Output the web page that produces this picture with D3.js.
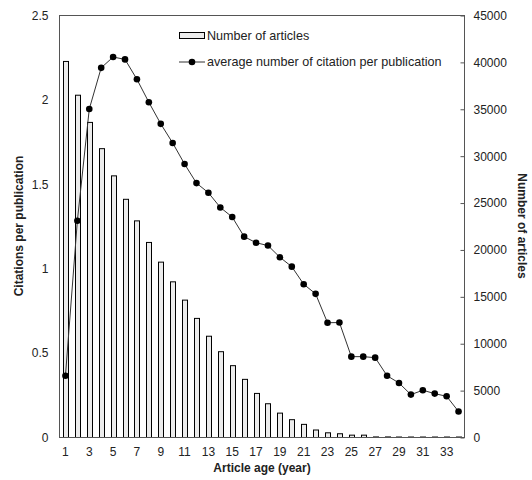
<!DOCTYPE html>
<html><head><meta charset="utf-8">
<script src="https://cdn.jsdelivr.net/npm/d3@7/dist/d3.min.js"></script>
<style>body{margin:0;background:#fff}svg{display:block}text{font-family:"Liberation Sans",Arial,sans-serif}</style>
</head><body><svg id="c" width="532" height="480"></svg>
<script>
const years = d3.range(1, 35);
const articles = [40100,36500,33600,30800,27900,25400,23100,20800,18700,16600,14650,12700,10800,9150,7660,6200,4700,3600,2600,1900,1400,800,500,400,250,250,60,60,50,50,50,50,50,50];
const citations = [0.366,1.284,1.946,2.19,2.254,2.24,2.122,1.986,1.858,1.745,1.62,1.507,1.45,1.363,1.306,1.19,1.154,1.137,1.068,1.012,0.908,0.851,0.68,0.681,0.479,0.479,0.473,0.366,0.323,0.254,0.28,0.26,0.244,0.154];
const leftTicks = [0,0.5,1,1.5,2,2.5];
const rightTicks = [0,5000,10000,15000,20000,25000,30000,35000,40000,45000];
const xTickLabels = d3.range(1, 35, 2);

const svg = d3.select("#c");
const L = 59.5, R = 464.5, T = 15.5, B = 437.5;
const x = d3.scaleBand().domain(years).range([L, R]).paddingInner(0).paddingOuter(0);
const yL = d3.scaleLinear().domain([0, 2.5]).range([B, T]);
const yR = d3.scaleLinear().domain([0, 45000]).range([B, T]);
const bw = 5;

// bars
svg.append("g").selectAll("rect").data(years).join("rect")
  .attr("x", d => Math.round(x(d) + x.bandwidth()/2 - bw/2) + 0.5)
  .attr("y", (d,i) => yR(articles[i]))
  .attr("width", bw)
  .attr("height", (d,i) => B - yR(articles[i]))
  .attr("fill", "#ececec").attr("stroke", "#000").attr("stroke-width", 1);

// frame
svg.append("rect").attr("x", L).attr("y", T).attr("width", R-L).attr("height", B-T)
  .attr("fill", "none").attr("stroke", "#555").attr("stroke-width", 1);

// left axis
const gl = svg.append("g").attr("transform", `translate(${L},0)`)
  .call(d3.axisLeft(yL).tickValues(leftTicks).tickSize(0).tickPadding(11).tickFormat(d3.format("")));
gl.select(".domain").remove();
gl.selectAll("text").attr("font-size", 12).attr("fill", "#222").attr("font-family", "Liberation Sans, Arial, sans-serif");

// right axis
const gr = svg.append("g").attr("transform", `translate(${R},0)`)
  .call(d3.axisRight(yR).tickValues(rightTicks).tickSize(-4).tickPadding(9).tickFormat(d3.format("d")));
gr.select(".domain").remove();
gr.selectAll("line").attr("stroke", "#555");
gr.selectAll("text").attr("font-size", 12).attr("fill", "#222").attr("font-family", "Liberation Sans, Arial, sans-serif");

// x axis
const gx = svg.append("g").attr("transform", `translate(0,${B})`)
  .call(d3.axisBottom(x).tickValues(xTickLabels).tickSize(0).tickPadding(10));
gx.select(".domain").remove();
gx.selectAll("text").attr("font-size", 12).attr("fill", "#222").attr("font-family", "Liberation Sans, Arial, sans-serif");

// line
const line = d3.line().x((d,i) => x(years[i]) + x.bandwidth()/2).y(d => yL(d));
svg.append("path").datum(citations).attr("d", line).attr("fill", "none").attr("stroke", "#333").attr("stroke-width", 1);
svg.append("g").selectAll("circle").data(citations).join("circle")
  .attr("cx", (d,i) => x(years[i]) + x.bandwidth()/2).attr("cy", d => yL(d)).attr("r", 3.3).attr("fill", "#000");

// titles
svg.append("text").attr("x", 262).attr("y", 472).attr("text-anchor", "middle")
  .attr("font-size", 12).attr("font-weight", "bold").attr("fill", "#222").text("Article age (year)");
svg.append("text").attr("transform", "translate(23,226) rotate(-90)").attr("text-anchor", "middle")
  .attr("font-size", 12).attr("font-weight", "bold").attr("fill", "#222").text("Citations per publication");
svg.append("text").attr("transform", "translate(518,226) rotate(90)").attr("text-anchor", "middle")
  .attr("font-size", 12).attr("font-weight", "bold").attr("fill", "#222").text("Number of articles");

// legend
const lg = svg.append("g");
lg.append("rect").attr("x", 179.5).attr("y", 32.5).attr("width", 25).attr("height", 6)
  .attr("fill", "#ececec").attr("stroke", "#000");
lg.append("text").attr("x", 207).attr("y", 40).attr("font-size", 12.6).attr("fill", "#222").text("Number of articles");
lg.append("line").attr("x1", 179).attr("x2", 205).attr("y1", 62).attr("y2", 62).attr("stroke", "#333");
lg.append("circle").attr("cx", 192).attr("cy", 62).attr("r", 3.3).attr("fill", "#000");
lg.append("text").attr("x", 207).attr("y", 66).attr("font-size", 12.6).attr("fill", "#222").text("average number of citation per publication");
</script></body></html>
